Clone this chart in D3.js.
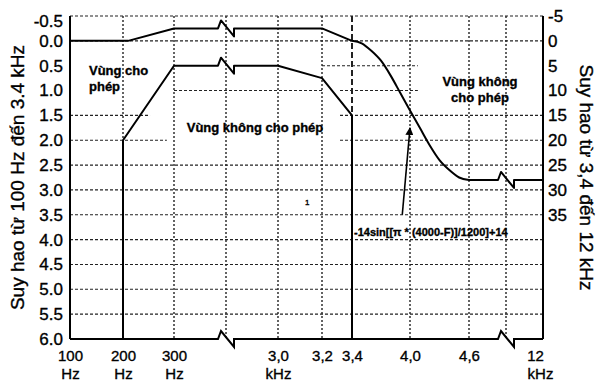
<!DOCTYPE html>
<html lang="vi">
<head>
<meta charset="utf-8">
<script src="https://cdn.jsdelivr.net/npm/d3@7"></script>
<style>
  body { margin: 0; background: #fff; }
  svg { display: block; font-family: "Liberation Sans", Arial, sans-serif; }
  svg text { stroke: #000; stroke-width: 0.35px; }
</style>
</head>
<body>
<div id="chart"></div>
<script>
// frequency axis ticks (Hz) - the axis is broken, so positions are not linear
var freqTicks = [100, 200, 300, 3000, 3200, 3400, 4000, 4600, 12000];
var freqLabels = ["100", "200", "300", "3,0", "3,2", "3,4", "4,0", "4,6", "12"];
var freqUnits = ["Hz", "Hz", "Hz", "kHz", "", "", "", "", "kHz"];

var leftTicks = [-0.5, 0, 0.5, 1, 1.5, 2, 2.5, 3, 3.5, 4, 4.5, 5, 5.5, 6];
var rightTicks = [-5, 0, 5, 10, 15, 20, 25, 30, 35];

// upper limit, 100 Hz - 3.4 kHz (dB, left axis)
var upperF = [100, 210, 300, 3200, 3400];
var upperDb = [0, 0, -0.25, -0.25, 0];

// lower limit, 100 Hz - 3.4 kHz (dB, left axis)
var lowerF = [200, 200, 300, 3000, 3200, 3400, 3400];
var lowerDb = [6, 2, 0.5, 0.5, 0.75, 1.5, 6];

// 3.4 - 12 kHz limit (dB, right axis)
var stopF = [3400, 3500, 3600, 3700, 3800, 3900, 4000, 4100, 4200, 4300, 4400, 4500, 4600, 12000];
var stopDb = [0, 0.5, 2, 4, 7, 10.5, 14, 17.5, 21, 24, 26, 27.5, 28, 28];

// horizontal grid lines and the stretches where they are drawn (Hz)
var gridDb = [-0.5, 0, 0.5, 1, 1.5, 2, 2.5, 3, 3.5, 4, 4.5, 5, 5.5];
var gridSpans = [
  [[100, 12000]], [[100, 12000]], [[3200, 4080]], [[300, 3200], [3320, 4080]],
  [[100, 253], [3320, 12000]], [[100, 286], [3320, 12000]],
  [[100, 12000]], [[100, 12000]], [[100, 12000]], [[100, 12000]],
  [[100, 12000]], [[100, 12000]], [[100, 12000]]
];

var width = 600, height = 382;

var x = d3.scaleLinear()
  .domain(freqTicks)
  .range([70, 123, 174, 278, 322, 352, 410, 469, 543]);
var yL = d3.scaleLinear().domain([-0.5, 6]).range([16, 339]);
var yR = d3.scaleLinear().domain([-5, 60]).range([16, 339]);

// axis breaks sit halfway between 300 Hz / 3,0 kHz and 4,6 / 12 kHz
var breaksPx = [(x(300) + x(3000)) / 2, (x(4600) + x(12000)) / 2];
var breakF = breaksPx.map(function(p) { return x.invert(p); });

var svg = d3.select("#chart").append("svg")
  .attr("width", width)
  .attr("height", height);

// path through pixel points, with a zigzag wherever it crosses a break
function brokenPath(pts) {
  var d = "M" + pts[0];
  for (var i = 1; i < pts.length; i++) {
    var a = pts[i - 1], b = pts[i];
    breaksPx.forEach(function(bx) {
      if (a[0] < bx && b[0] > bx) {
        var yy = a[1] + (b[1] - a[1]) * (bx - 8 - a[0]) / (b[0] - a[0]);
        d += "L" + [bx - 8, yy] + "L" + [bx - 5, yy - 8] + "L" + [bx + 8, yy + 8] + "L" + [bx + 8, yy];
      }
    });
    d += "L" + b;
  }
  return d;
}

// grid
var grid = svg.append("g").attr("stroke", "#222").attr("fill", "none");

gridDb.forEach(function(v, i) {
  gridSpans[i].forEach(function(s) {
    grid.append("line")
      .attr("x1", x(s[0])).attr("x2", x(s[1]))
      .attr("y1", yL(v)).attr("y2", yL(v))
      .attr("stroke-width", 1.1)
      .attr("stroke-dasharray", "3,2");
  });
});

var vGridF = [200, 300, breakF[0], 3000, 3200, 3400, 4000, 4600, breakF[1]];
var vGridTo = [2, 6, 6, 6, 6, 1.5, 6, 6, 6];
vGridF.forEach(function(f, i) {
  grid.append("line")
    .attr("x1", x(f)).attr("x2", x(f))
    .attr("y1", yL(-0.5)).attr("y2", yL(vGridTo[i]))
    .attr("stroke-width", f === 3400 ? 2 : 1.4)
    .attr("stroke-dasharray", f === 3400 ? "6,3" : "2,2");
});

// frame: left and right borders, bottom axis with breaks
var frame = svg.append("g").attr("stroke", "#000").attr("stroke-width", 2).attr("fill", "none");
frame.append("line").attr("x1", x(100)).attr("x2", x(100)).attr("y1", yL(-0.5)).attr("y2", yL(6));
frame.append("line").attr("x1", x(12000)).attr("x2", x(12000)).attr("y1", yL(-0.5)).attr("y2", yL(6));
frame.append("path").attr("d", brokenPath([[x(100), yL(6)], [x(12000), yL(6)]]));

// mask lines
var masks = svg.append("g").attr("stroke", "#000").attr("stroke-width", 2)
  .attr("fill", "none").attr("stroke-linejoin", "round");

masks.append("path").attr("d", brokenPath(upperF.map(function(f, i) { return [x(f), yL(upperDb[i])]; })));
masks.append("path").attr("d", brokenPath(lowerF.map(function(f, i) { return [x(f), yL(lowerDb[i])]; })));

var curvePts = stopF.slice(0, -1).map(function(f, i) { return [x(f), yR(stopDb[i])]; });
masks.append("path")
  .attr("d", d3.line().curve(d3.curveMonotoneX)(curvePts));
masks.append("path")
  .attr("d", brokenPath([[x(4600), yR(28)], [x(12000), yR(stopDb[stopDb.length - 1])]]));

// axes
var leftAxis = svg.append("g")
  .attr("transform", "translate(" + x(100) + ",0)")
  .call(d3.axisLeft(yL).tickValues(leftTicks).tickSize(0).tickPadding(7)
    .tickFormat(function(d) { return d.toFixed(1); }));

var rightAxis = svg.append("g")
  .attr("transform", "translate(" + x(12000) + ",0)")
  .call(d3.axisRight(yR).tickValues(rightTicks).tickSize(0).tickPadding(5)
    .tickFormat(function(d) { return d; }));

var bottomAxis = svg.append("g")
  .attr("transform", "translate(0," + yL(6) + ")")
  .call(d3.axisBottom(x).tickValues(freqTicks).tickSize(0).tickPadding(11));

[leftAxis, rightAxis, bottomAxis].forEach(function(g) {
  g.select(".domain").remove();
  g.selectAll("text").attr("fill", "#000").attr("font-family", null);
});
leftAxis.attr("font-size", 17);
rightAxis.attr("font-size", 17);
bottomAxis.attr("font-size", 15);

leftAxis.selectAll(".tick text").filter(function(d) { return d === -0.5; }).attr("dy", "0.62em");

bottomAxis.selectAll(".tick text").each(function(d, i) {
  var t = d3.select(this).text(null);
  var last = i === freqTicks.length - 1;
  t.append("tspan").attr("x", 0).attr("dx", last ? -8 : 0).text(freqLabels[i]);
  if (freqUnits[i]) {
    t.append("tspan").attr("x", 0).attr("dx", last ? -3 : 0).attr("dy", "1.25em").text(freqUnits[i]);
  }
});

// axis titles
svg.append("text")
  .attr("transform", "translate(24," + (yL(-0.5) + yL(6)) / 2 + ") rotate(-90)")
  .attr("text-anchor", "middle")
  .attr("font-size", 19)
  .text("Suy hao từ 100 Hz đến 3.4 kHz");

svg.append("text")
  .attr("transform", "translate(580," + (yL(-0.5) + yL(6)) / 2 + ") rotate(90)")
  .attr("text-anchor", "middle")
  .attr("font-size", 19)
  .text("Suy hao từ 3,4 đến 12 kHz");

// region labels
var notes = svg.append("g").attr("font-weight", "bold").attr("font-size", 13).attr("fill", "#000");
notes.append("text").attr("x", 89).attr("y", yL(0.5) + 9).text("Vùng cho");
notes.append("text").attr("x", 89).attr("y", yL(0.5) + 25).text("phép");
notes.append("text").attr("x", 255).attr("y", yL(1.75) + 4).attr("text-anchor", "middle").text("Vùng không cho phép");
notes.append("text").attr("x", 480).attr("y", yR(9)).attr("text-anchor", "middle").text("Vùng không");
notes.append("text").attr("x", 480).attr("y", yR(12.3)).attr("text-anchor", "middle").text("cho phép");

// formula and its pointer
svg.append("defs").append("marker")
  .attr("id", "tip")
  .attr("viewBox", "0 0 10 10")
  .attr("refX", 9).attr("refY", 5)
  .attr("markerWidth", 5).attr("markerHeight", 5)
  .attr("orient", "auto")
  .append("path").attr("d", "M0,0L10,5L0,10z").attr("fill", "#000");

svg.append("line")
  .attr("x1", x(3920)).attr("y1", yR(35))
  .attr("x2", x(4000)).attr("y2", yR(17.5))
  .attr("stroke", "#000").attr("stroke-width", 1.6)
  .attr("marker-end", "url(#tip)");

svg.append("text")
  .attr("x", x(3400) + 2).attr("y", yR(39.2))
  .attr("font-weight", "bold").attr("font-size", 11)
  .text("-14sin[[π * (4000-F)]/1200]+14");

// small stray mark in the source
svg.append("text")
  .attr("x", 305).attr("y", 205)
  .attr("font-size", 8)
  .text("1");
</script>
</body>
</html>
